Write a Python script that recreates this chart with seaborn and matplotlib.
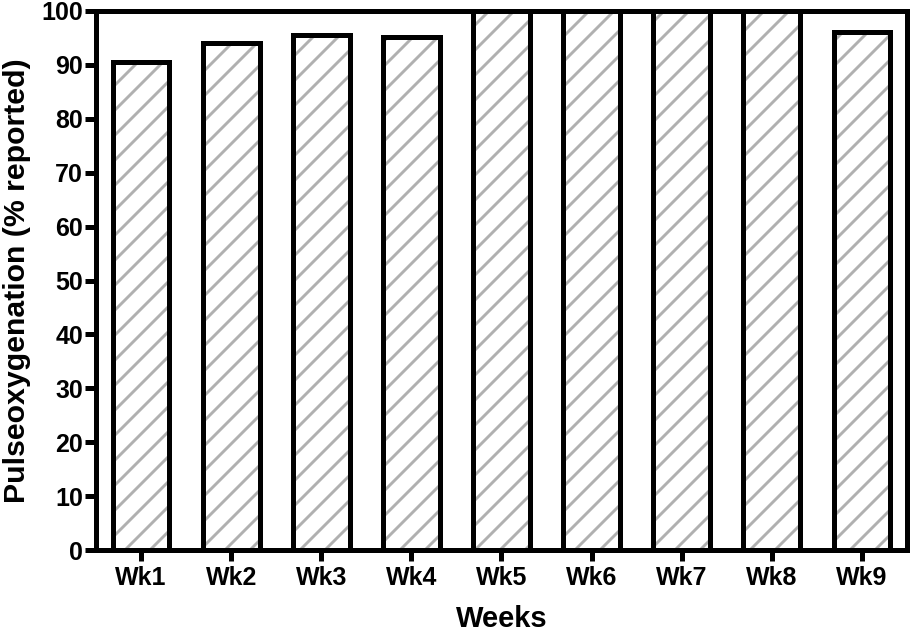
import matplotlib
matplotlib.use("Agg")
import matplotlib.pyplot as plt
import seaborn as sns

# Data
weeks = ["Wk1", "Wk2", "Wk3", "Wk4", "Wk5", "Wk6", "Wk7", "Wk8", "Wk9"]
reported = [90.6, 94.0, 95.5, 95.1, 100.0, 100.0, 100.0, 100.0, 96.1]
y_ticks = list(range(0, 101, 10))

sns.set_style("ticks")
plt.rcParams["font.family"] = ["Liberation Sans", "DejaVu Sans"]
plt.rcParams["font.weight"] = "bold"
plt.rcParams["axes.labelweight"] = "bold"
plt.rcParams["text.color"] = "black"
plt.rcParams["axes.labelcolor"] = "black"
plt.rcParams["xtick.color"] = "black"
plt.rcParams["ytick.color"] = "black"
plt.rcParams["hatch.linewidth"] = 2.8

# dpi 75 makes the hatch spacing close to the reference
fig = plt.figure(figsize=(911 / 75, 631 / 75), dpi=75)
ax = fig.add_axes([96 / 911, 81 / 631, 811 / 911, 539 / 631])

# hatched fill first, grey lines
sns.barplot(x=weeks, y=reported, color="white", width=0.63, ax=ax)
for p in ax.patches:
    p.set_hatch("/")
    p.set_edgecolor("#b0b0b0")
    p.set_linewidth(0)
n_fill = len(ax.patches)

# black outlines on top
sns.barplot(x=weeks, y=reported, color="white", width=0.63, ax=ax)
for p in ax.patches[n_fill:]:
    p.set_facecolor("none")
    p.set_edgecolor("black")
    p.set_linewidth(4.8)

ax.set_xlim(-0.5, 8.5)
ax.set_ylim(0, 100)
ax.set_yticks(y_ticks)
ax.set_xlabel("Weeks", fontsize=28, labelpad=14)
ax.set_ylabel("Pulseoxygenation (% reported)", fontsize=29, labelpad=10)
ax.tick_params(axis="both", labelsize=24, width=4.8, length=10.5, pad=2)
ax.tick_params(axis="x", pad=5)

for side in ["left", "right", "top", "bottom"]:
    ax.spines[side].set_visible(True)
    ax.spines[side].set_linewidth(4.8)
    ax.spines[side].set_color("black")

fig.savefig("out.png", dpi=75)
